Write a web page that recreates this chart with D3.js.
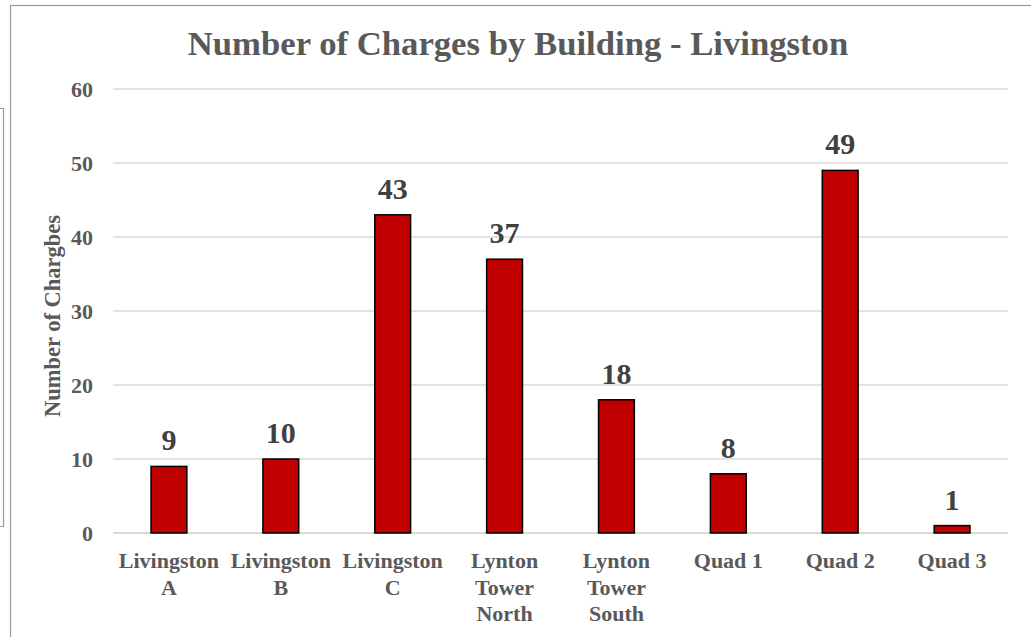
<!DOCTYPE html>
<html>
<head>
<meta charset="utf-8">
<script src="https://cdn.jsdelivr.net/npm/d3@7"></script>
<style>
  body { margin: 0; background: #fff; }
  svg { display: block; font-family: "Times New Roman", "Liberation Serif", serif; font-weight: bold; }
  .grid line { stroke: #d9d9d9; }
  .tick-lbl { fill: #595959; font-size: 22px; }
  .cat-lbl { fill: #595959; font-size: 22px; }
  .val-lbl { fill: #404040; font-size: 30px; }
  .title { fill: #595959; font-size: 34.7px; }
  .ytitle { fill: #595959; font-size: 22.5px; }
</style>
</head>
<body>
<svg id="chart" width="1031" height="637"></svg>
<script>
var categories = ["Livingston A", "Livingston B", "Livingston C", "Lynton Tower North",
                  "Lynton Tower South", "Quad 1", "Quad 2", "Quad 3"];
var charges = [9, 10, 43, 37, 18, 8, 49, 1];
var yTicks = [0, 10, 20, 30, 40, 50, 60];

var svg = d3.select("#chart");

// frame of the chart, plus the edge of the neighbouring box on the left
svg.append("rect")
  .attr("x", 10.5).attr("y", 5.5)
  .attr("width", 1040).attr("height", 660)
  .attr("fill", "none").attr("stroke", "#9a9a9a").attr("stroke-width", 1.2);
svg.append("path")
  .attr("d", "M0,108.5 H3.5 V526.5 H0")
  .attr("fill", "none").attr("stroke", "#9a9a9a").attr("stroke-width", 1.2);

var plotL = 113, plotR = 1008, plotT = 89, plotB = 533;

var x = d3.scaleBand().domain(categories).range([plotL, plotR]).paddingInner(0.68).paddingOuter(0.34);
var y = d3.scaleLinear().domain([0, 60]).range([plotB, plotT]);

// gridlines
svg.append("g").attr("class", "grid")
  .selectAll("line").data(yTicks).enter().append("line")
  .attr("x1", plotL).attr("x2", plotR)
  .attr("y1", function(d) { return y(d); })
  .attr("y2", function(d) { return y(d); })
  .style("stroke-width", function(d) { return d === 0 ? 1.8 : 1.3; });

svg.selectAll(".tick-lbl").data(yTicks).enter().append("text")
  .attr("class", "tick-lbl")
  .attr("x", 93)
  .attr("y", function(d) { return y(d); })
  .attr("dy", "0.35em")
  .attr("text-anchor", "end")
  .text(function(d) { return d; });

// bars
svg.selectAll(".bar").data(charges).enter().append("rect")
  .attr("class", "bar")
  .attr("x", function(d, i) { return x(categories[i]); })
  .attr("y", function(d) { return y(d); })
  .attr("width", x.bandwidth())
  .attr("height", function(d) { return plotB - y(d); })
  .attr("fill", "#c00000")
  .attr("stroke", "#000")
  .attr("stroke-width", 1.5);

svg.selectAll(".val-lbl").data(charges).enter().append("text")
  .attr("class", "val-lbl")
  .attr("x", function(d, i) { return x(categories[i]) + x.bandwidth() / 2; })
  .attr("y", function(d) { return y(d) - 16; })
  .attr("text-anchor", "middle")
  .text(function(d) { return d; });

// category labels, wrapped to the width of a category slot
var step = x.step();
var cat = svg.selectAll(".cat-lbl").data(categories).enter().append("text")
  .attr("class", "cat-lbl")
  .attr("text-anchor", "middle")
  .attr("y", 568);

cat.each(function(d) {
  var t = d3.select(this);
  var cx = x(d) + x.bandwidth() / 2;
  var words = d.split(" ");
  var lines = [], cur = [];
  var probe = t.append("tspan");
  words.forEach(function(w) {
    probe.text(cur.concat([w]).join(" "));
    if (cur.length && probe.node().getComputedTextLength() > step) {
      lines.push(cur.join(" "));
      cur = [w];
    } else {
      cur.push(w);
    }
  });
  lines.push(cur.join(" "));
  probe.remove();
  lines.forEach(function(l, k) {
    t.append("tspan").attr("x", cx).attr("y", 568 + k * 26.5).text(l);
  });
});

svg.append("text")
  .attr("class", "title")
  .attr("x", 518).attr("y", 55)
  .attr("text-anchor", "middle")
  .text("Number of Charges by Building - Livingston");

svg.append("text")
  .attr("class", "ytitle")
  .attr("transform", "translate(60,316) rotate(-90)")
  .attr("text-anchor", "middle")
  .text("Number of Chargbes");
</script>
</body>
</html>
